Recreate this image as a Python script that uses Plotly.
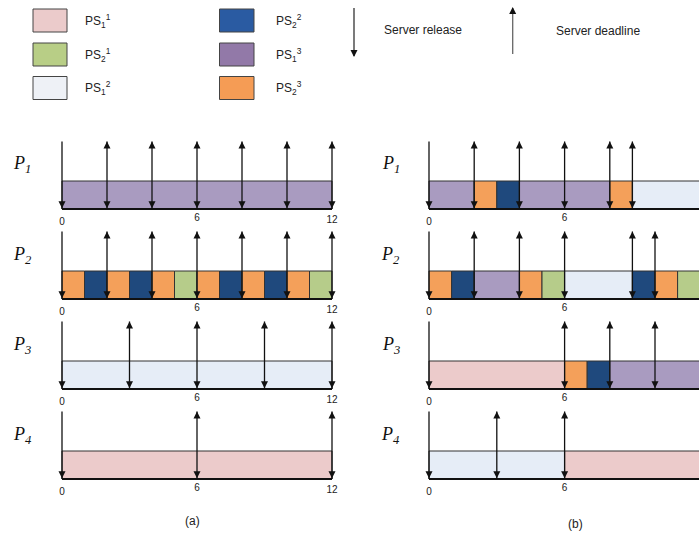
import plotly.graph_objects as go

# ---------------- data ----------------
TIME_TICKS = [0, 6, 12]
PROC_LABELS = ["1", "2", "3", "4"]

SERVERS = ["PS1^1", "PS2^1", "PS1^2", "PS2^2", "PS1^3", "PS2^3"]
SERVER_TEXT = {
    "PS1^1": "PS<sub>1</sub><sup>1</sup>",
    "PS2^1": "PS<sub>2</sub><sup>1</sup>",
    "PS1^2": "PS<sub>1</sub><sup>2</sup>",
    "PS2^2": "PS<sub>2</sub><sup>2</sup>",
    "PS1^3": "PS<sub>1</sub><sup>3</sup>",
    "PS2^3": "PS<sub>2</sub><sup>3</sup>",
}

# panel (a)
A_START = [[0],
           [0, 1, 2, 3, 4, 5, 6, 7, 8, 9, 10, 11],
           [0],
           [0]]
A_END = [[12],
         [1, 2, 3, 4, 5, 6, 7, 8, 9, 10, 11, 12],
         [12],
         [12]]
A_SERVER = [["PS1^3"],
            ["PS2^3", "PS2^2", "PS2^3", "PS2^2", "PS2^3", "PS2^1",
             "PS2^3", "PS2^2", "PS2^3", "PS2^2", "PS2^3", "PS2^1"],
            ["PS1^2"],
            ["PS1^1"]]
A_RELEASE = [[0, 2, 4, 6, 8, 10, 12],
             [0, 2, 4, 6, 8, 10, 12],
             [0, 3, 6, 9, 12],
             [0, 6, 12]]
A_DEADLINE = [[2, 4, 6, 8, 10, 12],
              [2, 4, 6, 8, 10, 12],
              [3, 6, 9, 12],
              [6, 12]]

# panel (b)
B_START = [[0, 2, 3, 4, 8, 9],
           [0, 1, 2, 4, 5, 6, 9, 10, 11],
           [0, 6, 7, 8],
           [0, 6]]
B_END = [[2, 3, 4, 8, 9, 12],
         [1, 2, 4, 5, 6, 9, 10, 11, 12],
         [6, 7, 8, 12],
         [6, 12]]
B_SERVER = [["PS1^3", "PS2^3", "PS2^2", "PS1^3", "PS2^3", "PS1^2"],
            ["PS2^3", "PS2^2", "PS1^3", "PS2^3", "PS2^1", "PS1^2", "PS2^2", "PS2^3", "PS2^1"],
            ["PS1^1", "PS2^3", "PS2^2", "PS1^3"],
            ["PS1^2", "PS1^1"]]
B_RELEASE = [[0, 2, 4, 6, 8, 9, 12],
             [0, 2, 4, 6, 9, 10, 12],
             [0, 6, 8, 10, 12],
             [0, 3, 6, 12]]
B_DEADLINE = [[2, 4, 6, 8, 9, 12],
              [2, 4, 6, 9, 10, 12],
              [6, 8, 10, 12],
              [3, 6, 12]]

# ---------------- styles ----------------
BAR_COLOR = {
    "PS1^1": "#ECCBCB", "PS2^1": "#B6CC8A", "PS1^2": "#E6EDF7",
    "PS2^2": "#1F497D", "PS1^3": "#A99BC0", "PS2^3": "#F4A05A",
}
LEGEND_COLOR = {
    "PS1^1": "#EBCBCB", "PS2^1": "#B8CE86", "PS1^2": "#EEF1F6",
    "PS2^2": "#2A5BA2", "PS1^3": "#9279A8", "PS2^3": "#F59C55",
}
SANS = "Liberation Sans, Arial, sans-serif"
SERIF = "Liberation Serif, Times New Roman, serif"
INK = "#111111"

W, H = 699, 536


def fx(px):
    return px / W


def fy(py):
    return 1 - py / H


PANELS = {
    "a": dict(t0=62.0, unit=22.5, left=40, right=350, label_x=22, cap=(192, 521),
              data=(A_START, A_END, A_SERVER, A_RELEASE, A_DEADLINE)),
    "b": dict(t0=429.0, unit=22.6, left=400, right=699, label_x=390.5, cap=(575, 524),
              data=(B_START, B_END, B_SERVER, B_RELEASE, B_DEADLINE)),
}
ROW_BASE = [209, 299, 389, 479]
BAR_PX = 28.0
UP_PX, DOWN_PX = 72, 18
ARROW_TOP = 67.5 / BAR_PX
TICK_OFF_PX = {0: 13.5, 6: 9.0, 12: 11.5}
LABEL_UP_PX = 44

fig = go.Figure()
layout = dict(
    width=W, height=H, margin=dict(l=0, r=0, t=0, b=0),
    paper_bgcolor="white", plot_bgcolor="white",
    showlegend=False, barmode="overlay",
)
annotations = []
shapes = []

k = 0
for pname, P in PANELS.items():
    starts, ends, servers, releases, deadlines = P["data"]
    for r in range(4):
        k += 1
        xa = "x" if k == 1 else f"x{k}"
        ya = "y" if k == 1 else f"y{k}"
        base = ROW_BASE[r]
        layout["xaxis" if k == 1 else f"xaxis{k}"] = dict(
            domain=[fx(P["left"]), fx(P["right"])],
            range=[(P["left"] - P["t0"]) / P["unit"], (P["right"] - P["t0"]) / P["unit"]],
            anchor=ya, visible=False, fixedrange=True)
        layout["yaxis" if k == 1 else f"yaxis{k}"] = dict(
            domain=[fy(base + DOWN_PX), fy(base - UP_PX)],
            range=[-DOWN_PX / BAR_PX, UP_PX / BAR_PX],
            anchor=xa, visible=False, fixedrange=True)

        s, e, sv = starts[r], ends[r], servers[r]
        fig.add_trace(go.Bar(
            x=[b - a for a, b in zip(s, e)], base=s, y=[0.5] * len(s),
            orientation="h", width=1,
            marker=dict(color=[BAR_COLOR[v] for v in sv],
                        line=dict(color="#333333", width=1)),
            xaxis=xa, yaxis=ya, hoverinfo="skip"))

        # baseline
        fig.add_trace(go.Scatter(
            x=[TIME_TICKS[0], TIME_TICKS[-1]], y=[0, 0], mode="lines",
            line=dict(color=INK, width=2), xaxis=xa, yaxis=ya, hoverinfo="skip"))

        # vertical arrow stems
        times = sorted(set(releases[r]) | set(deadlines[r]))
        lx, ly = [], []
        for t in times:
            lx += [t, t, None]
            ly += [0, ARROW_TOP, None]
        fig.add_trace(go.Scatter(
            x=lx, y=ly, mode="lines", line=dict(color=INK, width=1.3),
            xaxis=xa, yaxis=ya, hoverinfo="skip"))
        # release heads (down)
        fig.add_trace(go.Scatter(
            x=releases[r], y=[0.03] * len(releases[r]), mode="markers",
            marker=dict(symbol="arrow-down", size=7, color=INK, line=dict(width=0)),
            cliponaxis=False, xaxis=xa, yaxis=ya, hoverinfo="skip"))
        # deadline heads (up)
        fig.add_trace(go.Scatter(
            x=deadlines[r], y=[ARROW_TOP] * len(deadlines[r]), mode="markers",
            marker=dict(symbol="arrow-up", size=7, color=INK, line=dict(width=0)),
            cliponaxis=False, xaxis=xa, yaxis=ya, hoverinfo="skip"))
        # tick labels
        fig.add_trace(go.Scatter(
            x=TIME_TICKS, y=[-TICK_OFF_PX[t] / BAR_PX for t in TIME_TICKS],
            mode="text", text=[str(t) for t in TIME_TICKS],
            textfont=dict(family=SANS, size=10, color="#222222"),
            textposition="middle center", cliponaxis=False,
            xaxis=xa, yaxis=ya, hoverinfo="skip"))

        annotations.append(dict(
            x=fx(P["label_x"]), y=fy(base - LABEL_UP_PX), xref="paper", yref="paper",
            text=f"<i>P<sub>{PROC_LABELS[r]}</sub></i>", showarrow=False,
            font=dict(family=SERIF, size=18, color="#111111"),
            xanchor="center", yanchor="middle"))

    annotations.append(dict(
        x=fx(P["cap"][0]), y=fy(P["cap"][1]), xref="paper", yref="paper",
        text=f"({pname})", showarrow=False,
        font=dict(family=SANS, size=12, color="#222222"),
        xanchor="center", yanchor="middle"))

# ---------------- legend (pixel axes) ----------------
layout["xaxis9"] = dict(domain=[0, 1], range=[0, W], anchor="y9", visible=False, fixedrange=True)
layout["yaxis9"] = dict(domain=[fy(110), 1], range=[110, 0], anchor="x9", visible=False, fixedrange=True)

LEG_COLS = [(33, 67, 83), (219.5, 254, 274)]
LEG_ROWS = [20.5, 54.5, 88]
for i, sv in enumerate(SERVERS):
    c, rr = divmod(i, 3)
    bx0, bx1, tx = LEG_COLS[c]
    cy = LEG_ROWS[rr]
    shapes.append(dict(type="rect", xref="x9", yref="y9", x0=bx0, x1=bx1,
                       y0=cy - 11.5, y1=cy + 11.5, fillcolor=LEGEND_COLOR[sv],
                       line=dict(color="#444444", width=1), layer="above"))
    annotations.append(dict(x=tx, y=cy, xref="x9", yref="y9", text=SERVER_TEXT[sv],
                            showarrow=False, xanchor="left", yanchor="middle",
                            font=dict(family=SANS, size=12, color="#222222")))

# server release / deadline symbols
fig.add_trace(go.Scatter(x=[354, 354], y=[8, 56], mode="lines", line=dict(color="#333", width=1.3),
                         xaxis="x9", yaxis="y9", hoverinfo="skip"))
fig.add_trace(go.Scatter(x=[354], y=[57], mode="markers",
                         marker=dict(symbol="arrow-down", size=7, color=INK, line=dict(width=0)),
                         xaxis="x9", yaxis="y9", hoverinfo="skip"))
fig.add_trace(go.Scatter(x=[512.7, 512.7], y=[8, 54], mode="lines", line=dict(color="#666", width=1.3),
                         xaxis="x9", yaxis="y9", hoverinfo="skip"))
fig.add_trace(go.Scatter(x=[512.7], y=[7], mode="markers",
                         marker=dict(symbol="arrow-up", size=7, color=INK, line=dict(width=0)),
                         xaxis="x9", yaxis="y9", hoverinfo="skip"))
annotations.append(dict(x=382, y=30, xref="x9", yref="y9", text="Server release", showarrow=False,
                        xanchor="left", yanchor="middle", font=dict(family=SANS, size=12, color="#222")))
annotations.append(dict(x=554, y=31, xref="x9", yref="y9", text="Server deadline", showarrow=False,
                        xanchor="left", yanchor="middle", font=dict(family=SANS, size=12, color="#222")))

layout["annotations"] = annotations
layout["shapes"] = shapes
fig.update_layout(**layout)
fig.write_html(
    "out.html",
    config={"displayModeBar": False},
    post_script="document.body.style.margin='0';document.body.style.overflow='hidden';",
)
